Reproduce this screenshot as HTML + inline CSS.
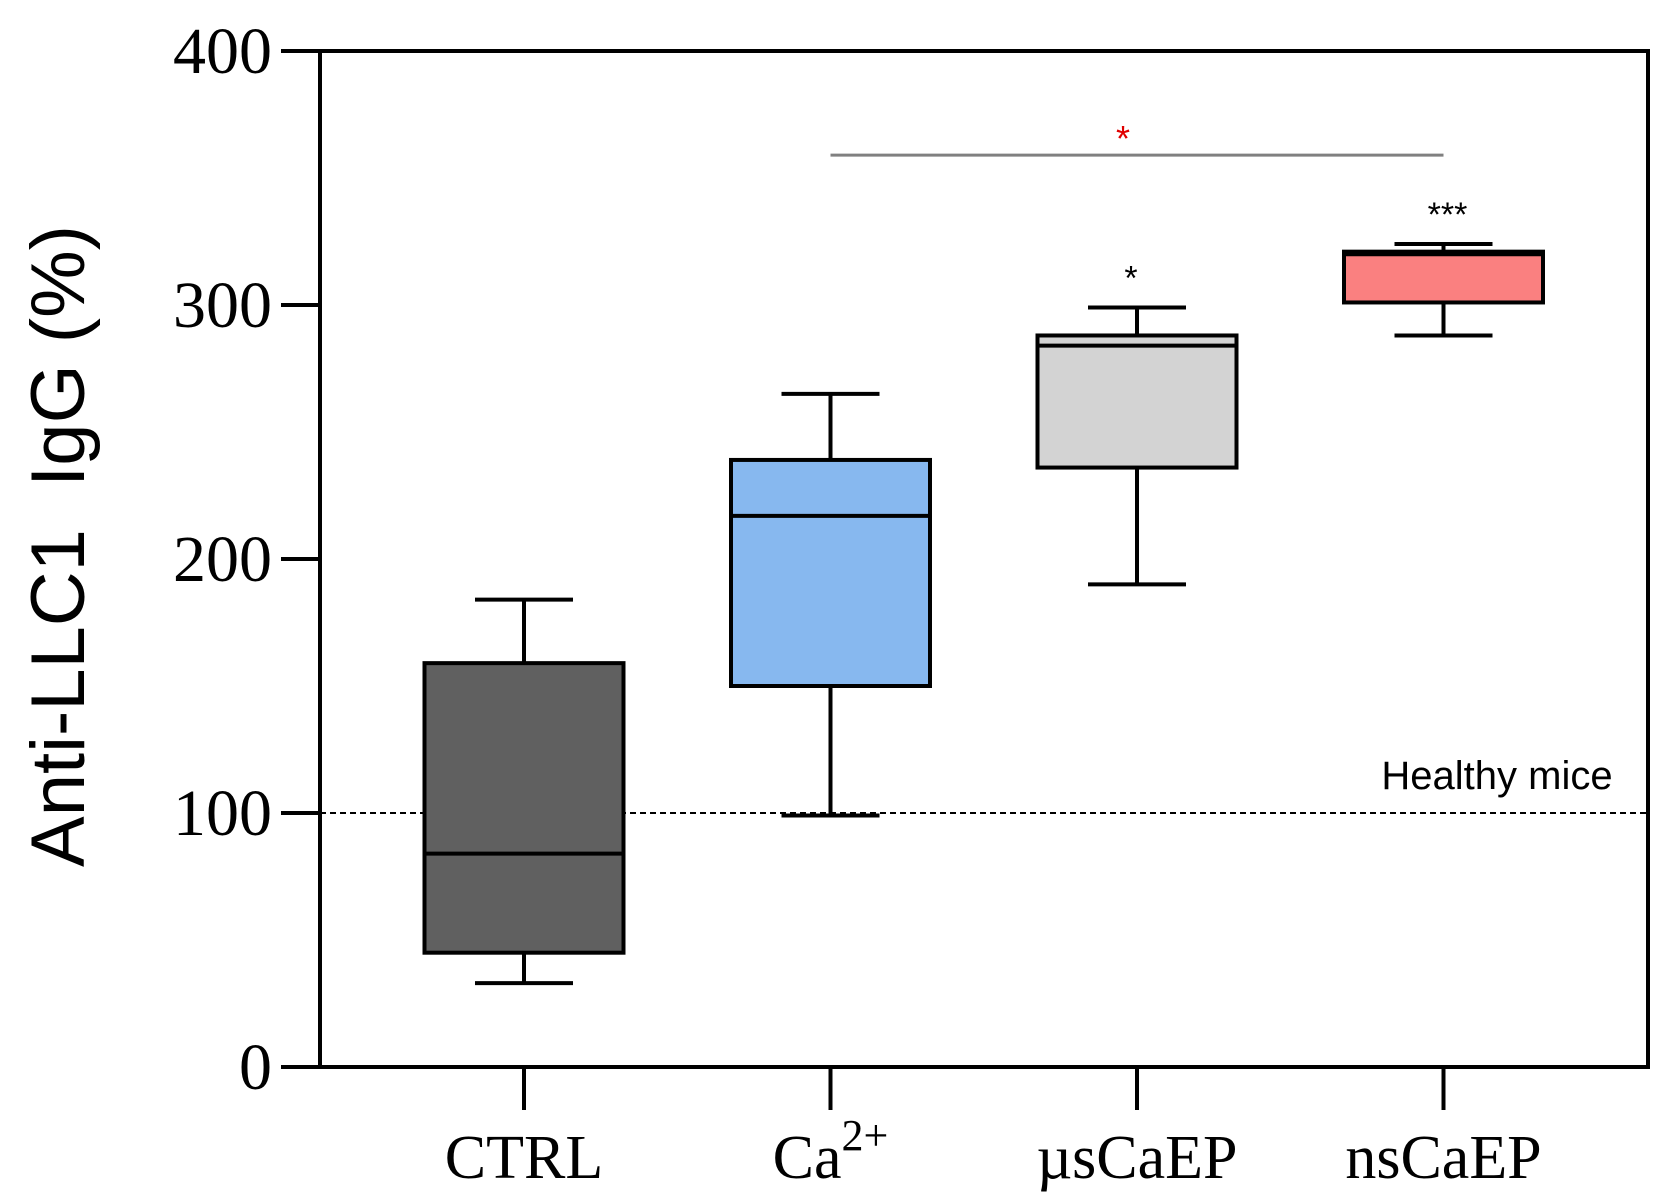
<!DOCTYPE html>
<html><head><meta charset="utf-8"><style>
html,body{margin:0;padding:0;background:#fff}
svg{display:block}
</style></head><body>
<svg id="chart" width="1671" height="1203" xmlns="http://www.w3.org/2000/svg">
<g id="plot"></g>
</svg>
<script>
const categories = ["CTRL","Ca2+","µsCaEP","nsCaEP"];
const mins = [33, 99, 190, 288];
const q1s = [45, 150, 236, 301];
const medians = [84, 217, 284, 320];
const q3s = [159, 239, 288, 321];
const maxs = [184, 265, 299, 324];
const fills = ["#606060","#87b8ef","#d3d3d3","#fa8080"];
const sigLabels = ["", "", "*", "***"];
const yTicks = [0,100,200,300,400];
const healthy = 100;
const bracketY = 359;

const X0=320, X1=1648, Y0=1067, Y1=51;
const y = v => Y0 - (v/400)*(Y0-Y1);
const xc = i => 524 + i*306.5;
const NS="http://www.w3.org/2000/svg";
const g=document.getElementById('plot');
function mk(t,a,parent){const e=document.createElementNS(NS,t);for(const k in a)e.setAttribute(k,a[k]);(parent||g).appendChild(e);return e;}

let dl=mk('line',{x1:X0,x2:X1,y1:y(healthy),y2:y(healthy),stroke:'#000','stroke-width':2,'stroke-dasharray':'6,4'});


let ht=mk('text',{x:1497,y:y(healthy)-24,'font-family':'Liberation Sans, sans-serif','font-size':40,'text-anchor':'middle'});
ht.textContent='Healthy mice';



const bw=199, cw=98;
categories.forEach((c,i)=>{
  const cx=xc(i);
  const grp=mk('g',{});
  
  
  mk('line',{x1:cx,x2:cx,y1:y(maxs[i]),y2:y(q3s[i]),stroke:'#000','stroke-width':4},grp);
  mk('line',{x1:cx,x2:cx,y1:y(q1s[i]),y2:y(mins[i]),stroke:'#000','stroke-width':4},grp);
  mk('line',{x1:cx-cw/2,x2:cx+cw/2,y1:y(maxs[i]),y2:y(maxs[i]),stroke:'#000','stroke-width':4},grp);
  mk('line',{x1:cx-cw/2,x2:cx+cw/2,y1:y(mins[i]),y2:y(mins[i]),stroke:'#000','stroke-width':4},grp);
  mk('rect',{x:cx-bw/2,y:y(q3s[i]),width:bw,height:y(q1s[i])-y(q3s[i]),fill:fills[i],stroke:'#000','stroke-width':4},grp);
  mk('line',{x1:cx-bw/2,x2:cx+bw/2,y1:y(medians[i]),y2:y(medians[i]),stroke:'#000','stroke-width':4},grp);
  if(sigLabels[i]){
    const s=mk('text',{x:cx+(i==3?4:-6),y:y(maxs[i])-18,'font-family':'Liberation Sans, sans-serif','font-size':34,'text-anchor':'middle'});
    s.textContent=sigLabels[i];
    
    
  }
  mk('line',{x1:cx,x2:cx,y1:Y0,y2:1110,stroke:'#000','stroke-width':4});
  const t=mk('text',{x:cx,y:1178,'font-family':'Liberation Serif, serif','font-size':62,'text-anchor':'middle'});
  if(c==='Ca2+'){t.innerHTML='Ca<tspan dy="-28" font-size="44">2+</tspan>';}
  else t.textContent=c;
  
  
});

let br=mk('line',{x1:xc(1),x2:xc(3),y1:y(bracketY),y2:y(bracketY),stroke:'#808080','stroke-width':3});


let rs=mk('text',{x:(xc(1)+xc(3))/2-14,y:y(bracketY)-4,'font-family':'Liberation Sans, sans-serif','font-size':36,'text-anchor':'middle',fill:'#e00000'});
rs.textContent='*';



let fr=mk('rect',{x:X0,y:Y1,width:X1-X0,height:Y0-Y1,fill:'none',stroke:'#000','stroke-width':4});


yTicks.forEach(v=>{
  mk('line',{x1:281,x2:X0,y1:y(v),y2:y(v),stroke:'#000','stroke-width':4});
  const t=mk('text',{x:272,y:y(v)+22,'font-family':'Liberation Serif, serif','font-size':66,'text-anchor':'end'});
  t.textContent=v;
  
  
});
let yt=mk('text',{x:0,y:0,transform:'translate(84,546) rotate(-90)','font-family':'Liberation Sans, sans-serif','font-size':76,'text-anchor':'middle'});
yt.textContent='Anti-LLC1  IgG (%)';
yt.setAttribute('xml:space','preserve');
yt.style.whiteSpace='pre';


</script>
</body></html>
